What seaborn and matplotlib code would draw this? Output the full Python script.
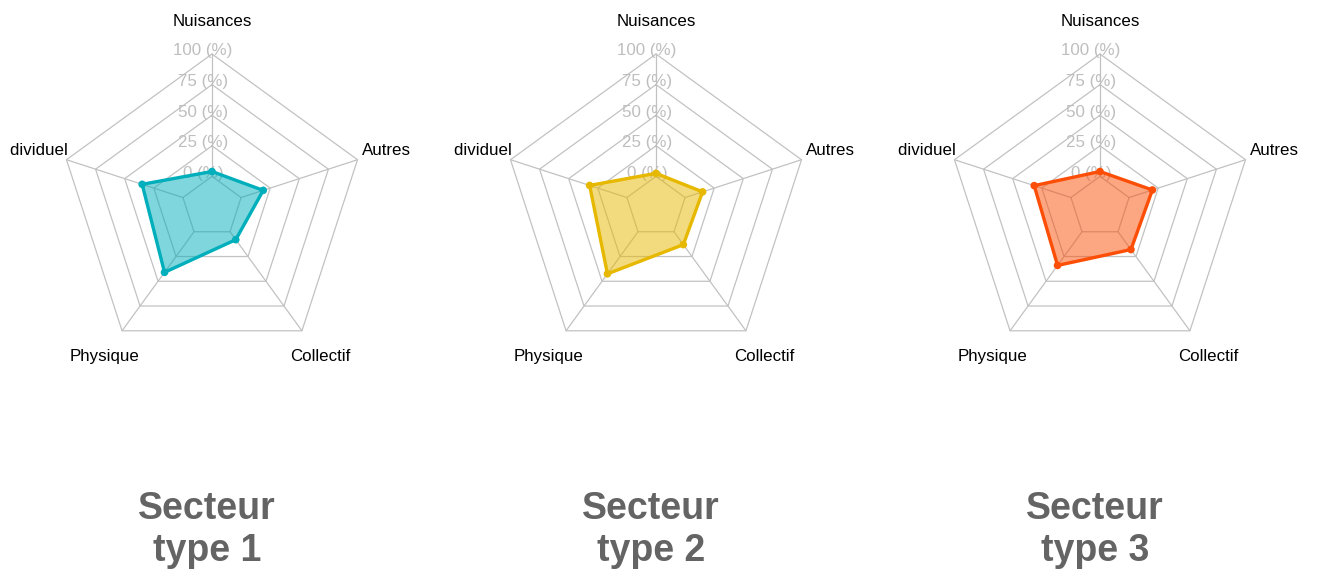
import numpy as np
import pandas as pd
import matplotlib
matplotlib.use("Agg")
import matplotlib.pyplot as plt
import seaborn as sns

# ---- data ----
axis_labels = ["Nuisances", "Autres", "Collectif", "Physique", "Individuel"]
secteur_1 = [4, 19, 8, 41, 35]
secteur_2 = [2.5, 15, 13, 42.5, 32]
secteur_3 = [4, 20, 18, 34, 31.5]
titles = ["Secteur\ntype 1", "Secteur\ntype 2", "Secteur\ntype 3"]
colors = ["#00AFBB", "#E7B800", "#FC4E07"]
tick_values = [0, 25, 50, 75, 100]
tick_labels = ["0 (%)", "25 (%)", "50 (%)", "75 (%)", "100 (%)"]

series = [secteur_1, secteur_2, secteur_3]

sns.set_theme(style="white")
plt.rcParams['font.family'] = ['Liberation Sans', 'DejaVu Sans']

W_PX, H_PX = 1319, 575
R = 153.0          # outer radius in pixels
CY = 207.0         # centre y (from top) in pixels
CX0, DCX = 212.0, 444.0
LEFT, RIGHT = 202.0, 215.0

fig = plt.figure(figsize=(W_PX / 100, H_PX / 100), dpi=100)

n = len(axis_labels)
angles = np.deg2rad(90 - 72 * np.arange(n))
label_dx = [0, 0, 0, 0, -5]   # small pixel nudges for the axis labels
label_dy = [2, 0, -1, -1, 0]


def frac(v):
    # fmsb-style: 0 sits on the inner ring (1/5 of the radius)
    return (np.asarray(v, dtype=float) + 25.0) / 125.0


grid_col = "#C2C2C2"

for i, (vals, col, title) in enumerate(zip(series, colors, titles)):
    cx = CX0 + DCX * i
    ax = fig.add_axes([(cx - LEFT) / W_PX, 0, (LEFT + RIGHT) / W_PX, 1])

    # grid pentagons
    for tv in tick_values:
        r = frac(tv)
        xs = np.append(r * np.cos(angles), r * np.cos(angles[0]))
        ys = np.append(r * np.sin(angles), r * np.sin(angles[0]))
        ax.plot(xs, ys, color=grid_col, lw=0.9, zorder=1)
    # radial axes
    for a in angles:
        ax.plot([frac(0) * np.cos(a), np.cos(a)], [frac(0) * np.sin(a), np.sin(a)],
                color=grid_col, lw=0.9, zorder=1)

    # tick labels
    for tv, tl in zip(tick_values, tick_labels):
        ax.text(-9 / R, frac(tv) + 3 / R, tl, ha="center", va="center",
                fontsize=12.2, color="#BEBEBE", zorder=2)

    # axis labels (clipped at the panel edge like the reference)
    for a, lab, dx, dy in zip(angles, axis_labels, label_dx, label_dy):
        t = ax.text(1.2 * np.cos(a) + dx / R, 1.2 * np.sin(a) + dy / R, lab,
                    ha="center", va="center", fontsize=12.2, color="black", zorder=5)
        t.set_clip_box(ax.bbox)
        t.set_clip_on(True)

    # data
    r = frac(vals)
    df = pd.DataFrame({"axe": axis_labels,
                       "x": r * np.cos(angles),
                       "y": r * np.sin(angles)})
    closed = pd.concat([df, df.iloc[[0]]], ignore_index=True)
    ax.fill(closed["x"], closed["y"], color=col, alpha=0.5, lw=0, zorder=3)
    sns.lineplot(data=closed, x="x", y="y", sort=False, estimator=None,
                 color=col, lw=2.4, ax=ax, zorder=4)
    sns.scatterplot(data=df, x="x", y="y", color=col, s=30, edgecolor="none",
                    ax=ax, zorder=4.5)
    ax.set_xlabel("")
    ax.set_ylabel("")
    ax.set_xlim(-LEFT / R, RIGHT / R)
    ax.set_ylim(-(H_PX - CY) / R, CY / R)
    ax.axis("off")

    # title
    ax.text(-5 / R, (CY - 530) / R, title, ha="center", va="center",
            fontsize=27, fontweight="bold", color="#646464", linespacing=1.22)

fig.savefig("out.png", dpi=100)
